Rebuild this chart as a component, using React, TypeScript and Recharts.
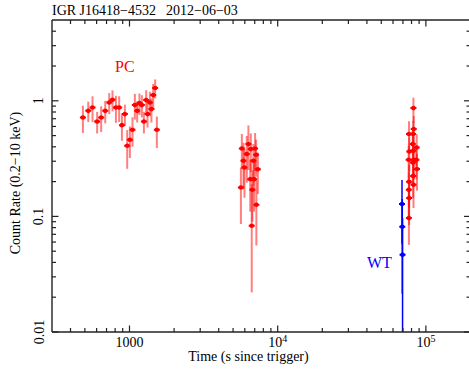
import { ScatterChart, Scatter, XAxis, YAxis, ErrorBar } from 'recharts'

// PC mode, first orbit
const pcEarlyTime = [485, 527, 563, 605, 644, 686, 730, 768, 810, 852, 889, 931, 965, 1006, 1048, 1087, 1127, 1168, 1212, 1251, 1296, 1323, 1373, 1406, 1445, 1490, 1530]
const pcEarlyRate = [0.717, 0.819, 0.875, 0.662, 0.717, 0.819, 0.967, 1.02, 0.875, 0.875, 0.616, 0.767, 0.408, 0.46, 0.561, 0.918, 0.819, 0.955, 0.918, 0.662, 1.014, 0.767, 0.967, 0.848, 1.12, 1.29, 0.561]
const pcEarlyErr = [0.19, 0.165, 0.22, 0.14, 0.18, 0.18, 0.2, 0.21, 0.23, 0.22, 0.165, 0.16, 0.15, 0.14, 0.16, 0.23, 0.17, 0.2, 0.2, 0.14, 0.22, 0.18, 0.23, 0.2, 0.28, 0.24, 0.17]

// PC mode, second orbit
const pcMidTime = [5728, 6344, 5875, 5967, 5647, 6188, 6585, 7040, 7150, 6855, 6530, 6930, 7345, 6745, 7180, 6680]
const pcMidRate = [0.387, 0.422, 0.303, 0.265, 0.178, 0.346, 0.382, 0.387, 0.341, 0.303, 0.21, 0.21, 0.256, 0.17, 0.126, 0.083]
const pcMidErrLo = [0.13, 0.17, 0.13, 0.12, 0.092, 0.15, 0.14, 0.14, 0.12, 0.12, 0.1, 0.1, 0.1, 0.08, 0.07, 0.061]
const pcMidErrHi = [0.13, 0.19, 0.13, 0.12, 0.087, 0.15, 0.14, 0.14, 0.12, 0.12, 0.1, 0.1, 0.1, 0.08, 0.08, 0.107]

// PC mode, late
const pcLateTime = [82400, 76900, 82800, 82000, 81600, 86700, 77300, 82200, 76500, 83000, 86300, 81800, 87100, 82000, 77000, 76700, 82500, 77100, 76800]
const pcLateRate = [0.865, 0.515, 0.569, 0.515, 0.422, 0.395, 0.364, 0.369, 0.309, 0.309, 0.309, 0.292, 0.257, 0.224, 0.199, 0.17, 0.188, 0.144, 0.0967]
const pcLateErrLo = [0.22, 0.15, 0.17, 0.15, 0.13, 0.12, 0.12, 0.12, 0.1, 0.1, 0.1, 0.1, 0.09, 0.08, 0.08, 0.07, 0.07, 0.06, 0.04]
const pcLateErrHi = [0.2, 0.15, 0.17, 0.15, 0.13, 0.12, 0.12, 0.12, 0.1, 0.1, 0.1, 0.1, 0.09, 0.08, 0.08, 0.07, 0.07, 0.06, 0.07]

// WT mode
const wtTime = [69000, 69300, 69600]
const wtRate = [0.128, 0.0814, 0.0466]
const wtErrLo = [0.07, 0.06, 0.05]
const wtErrHi = [0.078, 0.06, 0.05]

const xTicks = [400, 500, 600, 700, 800, 900, 1000, 2000, 3000, 4000, 5000, 6000, 7000, 8000, 9000, 10000, 20000, 30000, 40000, 50000, 60000, 70000, 80000, 90000, 100000]
const yTicks = [0.01, 0.02, 0.03, 0.04, 0.05, 0.06, 0.07, 0.08, 0.09, 0.1, 0.2, 0.3, 0.4, 0.5, 0.6, 0.7, 0.8, 0.9, 1, 2, 3, 4]

const Y_MIN = 0.01
const Y_MAX = 5

// error bars that run below the axis get cut at its bottom
const row = (t: number, rate: number, lo: number, hi: number) => ({ t, rate, yerr: [Math.min(lo, rate - Y_MIN), hi] })

const pcData = [
  ...pcEarlyTime.map((t, i) => row(t, pcEarlyRate[i], pcEarlyErr[i], pcEarlyErr[i])),
  ...pcMidTime.map((t, i) => row(t, pcMidRate[i], pcMidErrLo[i], pcMidErrHi[i])),
  ...pcLateTime.map((t, i) => row(t, pcLateRate[i], pcLateErrLo[i], pcLateErrHi[i])),
]
const wtData = wtTime.map((t, i) => row(t, wtRate[i], wtErrLo[i], wtErrHi[i]))

const FONT = '"Liberation Serif", "Times New Roman", serif'
const AXIS = '#222'

const isMajor = (v: number) => Math.abs(Math.log10(v) - Math.round(Math.log10(v))) < 1e-6

const xLabel = (v: number) => {
  if (v === 1000) return <tspan>1000</tspan>
  const p = Math.round(Math.log10(v))
  return (
    <>
      <tspan>10</tspan>
      <tspan fontSize={10} dy={-5}>{p}</tspan>
    </>
  )
}

const BottomTick = (props: any) => {
  const { x, y, payload } = props
  const major = isMajor(payload.value)
  return (
    <g>
      <line x1={x} x2={x} y1={y} y2={y - (major ? 6.5 : 4)} stroke={AXIS} strokeWidth={1.2} />
      {major && (
        <text x={x} y={y + 15} textAnchor="middle" fontSize={14} fontFamily={FONT} fill="#000">
          {xLabel(payload.value)}
        </text>
      )}
    </g>
  )
}

const TopTick = (props: any) => {
  const { x, y, payload } = props
  const major = isMajor(payload.value)
  return <line x1={x} x2={x} y1={y} y2={y + (major ? 6.5 : 4)} stroke={AXIS} strokeWidth={1.2} />
}

const LeftTick = (props: any) => {
  const { x, y, payload } = props
  const major = isMajor(payload.value)
  const tx = x - 8.5
  return (
    <g>
      <line x1={x} x2={x + (major ? 6.5 : 4)} y1={y} y2={y} stroke={AXIS} strokeWidth={1.2} />
      {major && (
        <text x={tx} y={y} transform={`rotate(-90, ${tx}, ${y})`} textAnchor="middle" fontSize={14} fontFamily={FONT} fill="#000">
          {String(payload.value)}
        </text>
      )}
    </g>
  )
}

const RightTick = (props: any) => {
  const { x, y, payload } = props
  const major = isMajor(payload.value)
  return <line x1={x} x2={x - (major ? 6.5 : 4)} y1={y} y2={y} stroke={AXIS} strokeWidth={1.2} />
}

const PointShape = (props: any) => {
  const { cx, cy, fill } = props
  return (
    <g>
      <line x1={cx - 3} x2={cx + 3} y1={cy} y2={cy} stroke={fill} strokeWidth={2} />
      <circle cx={cx} cy={cy} r={2.3} fill={fill} />
    </g>
  )
}

export default function App() {
  return (
    <div style={{ position: 'absolute', left: 0, top: 0, width: 469, height: 372, overflow: 'hidden', background: '#fff' }}>
      <ScatterChart width={480} height={372} margin={{ top: 19, right: 8.5, bottom: 0, left: 0 }}>
        <XAxis
          xAxisId="b"
          dataKey="t"
          type="number"
          scale="log"
          domain={[300, 200000]}
          allowDataOverflow
          ticks={xTicks}
          interval={0}
          height={40}
          tickSize={0}
          tickMargin={0}
          tickLine={false}
          stroke={AXIS}
          strokeWidth={1.4}
          tick={<BottomTick />}
        />
        <XAxis
          xAxisId="t"
          orientation="top"
          dataKey="t"
          type="number"
          scale="log"
          domain={[300, 200000]}
          allowDataOverflow
          ticks={xTicks}
          interval={0}
          height={1}
          tickSize={0}
          tickMargin={0}
          tickLine={false}
          stroke={AXIS}
          strokeWidth={1.4}
          tick={<TopTick />}
        />
        <YAxis
          yAxisId="l"
          dataKey="rate"
          type="number"
          scale="log"
          domain={[Y_MIN, Y_MAX]}
          allowDataOverflow
          ticks={yTicks}
          interval={0}
          width={52}
          tickSize={0}
          tickMargin={0}
          tickLine={false}
          stroke={AXIS}
          strokeWidth={1.4}
          tick={<LeftTick />}
        />
        <YAxis
          yAxisId="r"
          orientation="right"
          dataKey="rate"
          type="number"
          scale="log"
          domain={[Y_MIN, Y_MAX]}
          allowDataOverflow
          ticks={yTicks}
          interval={0}
          width={1}
          tickSize={0}
          tickMargin={0}
          tickLine={false}
          stroke={AXIS}
          strokeWidth={1.4}
          tick={<RightTick />}
        />
        <Scatter xAxisId="b" yAxisId="l" data={pcData} fill="#ff0000" shape={<PointShape />} isAnimationActive={false}>
          <ErrorBar dataKey="yerr" direction="y" width={0} stroke="rgba(255,0,0,0.5)" strokeWidth={2} isAnimationActive={false} />
        </Scatter>
        <Scatter xAxisId="b" yAxisId="l" data={wtData} fill="#0000ff" shape={<PointShape />} isAnimationActive={false}>
          <ErrorBar dataKey="yerr" direction="y" width={0} stroke="#0000ff" strokeWidth={1.5} isAnimationActive={false} />
        </Scatter>
        <text x={52} y={15} fontSize={14} fontFamily={FONT} fill="#000">IGR J16418−4532</text>
        <text x={166} y={15} fontSize={14} fontFamily={FONT} fill="#000">2012−06−03</text>
        <text x={115} y={71.5} fontSize={16} fontFamily={FONT} fill="#ff0000">PC</text>
        <text x={367} y={268} fontSize={16} fontFamily={FONT} fill="#0000ff">WT</text>
        <text x={248.5} y={361} textAnchor="middle" fontSize={14} fontFamily={FONT} fill="#000">Time (s since trigger)</text>
        <text x={19.5} y={183} transform="rotate(-90, 19.5, 183)" textAnchor="middle" fontSize={14} fontFamily={FONT} fill="#000">Count Rate (0.2−10 keV)</text>
      </ScatterChart>
    </div>
  )
}
